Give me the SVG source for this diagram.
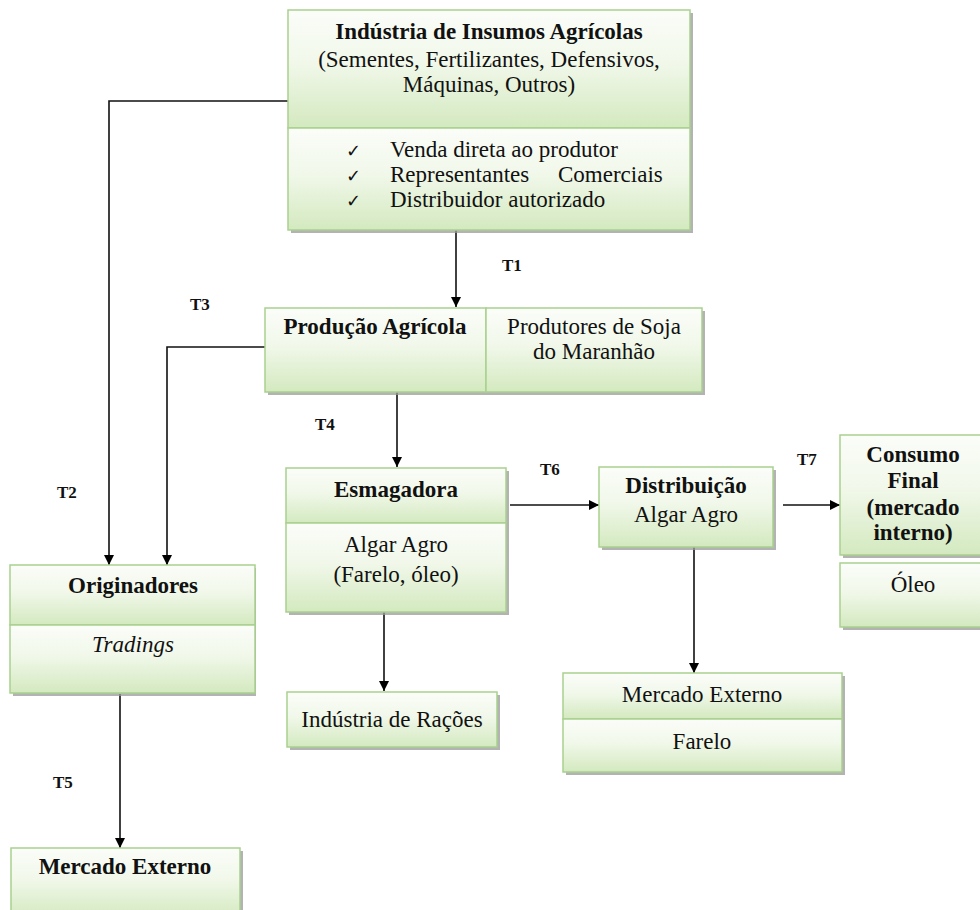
<svg xmlns="http://www.w3.org/2000/svg" width="980" height="910" viewBox="0 0 980 910">
<defs>
<linearGradient id="g" x1="0" y1="0" x2="0" y2="1">
<stop offset="0" stop-color="#fbfdf9"/>
<stop offset="0.45" stop-color="#f1f8ea"/>
<stop offset="1" stop-color="#d3e9bf"/>
</linearGradient>
<marker id="ah" viewBox="0 0 10 10" refX="10" refY="5" markerWidth="10" markerHeight="11" markerUnits="userSpaceOnUse" orient="auto">
<path d="M0,0 L10,5 L0,10 z" fill="#000"/>
</marker>
</defs>
<style>
.sec{fill:url(#g);stroke:#a9d18e;stroke-width:1.5}
.sh{fill:#9a9a9a;opacity:0.75}
.t{font-family:"Liberation Serif",serif;font-size:23px;fill:#111}
.ck{font-family:"DejaVu Sans",sans-serif;font-size:18px;fill:#111}
.c{text-anchor:middle}
.b{font-weight:bold}
.i{font-style:italic}
.lbl{font-family:"Liberation Serif",serif;font-weight:bold;font-size:17px;fill:#111}
.ln{fill:none;stroke:#111;stroke-width:1.6}
</style>
<rect width="980" height="910" fill="#fff"/>

<g id="connectors">
<path class="ln" d="M288,101 H109 V565" marker-end="url(#ah)"/>
<path class="ln" d="M456,230 V307" marker-end="url(#ah)"/>
<path class="ln" d="M265,347 H167 V565" marker-end="url(#ah)"/>
<path class="ln" d="M397,392 V467" marker-end="url(#ah)"/>
<path class="ln" d="M510,505 H599" marker-end="url(#ah)"/>
<path class="ln" d="M783,505 H840" marker-end="url(#ah)"/>
<path class="ln" d="M694,547 V673" marker-end="url(#ah)"/>
<path class="ln" d="M384,612 V691" marker-end="url(#ah)"/>
<path class="ln" d="M120,694 V848" marker-end="url(#ah)"/>
<text class="lbl" x="502" y="271">T1</text>
<text class="lbl" x="190" y="310">T3</text>
<text class="lbl" x="315" y="430">T4</text>
<text class="lbl" x="57" y="498">T2</text>
<text class="lbl" x="540" y="475">T6</text>
<text class="lbl" x="797" y="465">T7</text>
<text class="lbl" x="53" y="788">T5</text>
</g>

<g id="insumos">
<rect class="sh" x="291" y="13" width="402" height="220"/>
<rect class="sec" x="288" y="10" width="402" height="118"/>
<rect class="sec" x="288" y="128" width="402" height="102"/>
<text class="t c b" x="489" y="39">Indústria de Insumos Agrícolas</text>
<text class="t c" x="489" y="67">(Sementes, Fertilizantes, Defensivos,</text>
<text class="t c" x="489" y="92">Máquinas, Outros)</text>
<text class="ck" x="346" y="157">✓</text>
<text class="t" x="390" y="157">Venda direta ao produtor</text>
<text class="ck" x="346" y="182">✓</text>
<text class="t" x="390" y="182">Representantes<tspan x="558">Comerciais</tspan></text>
<text class="ck" x="346" y="207">✓</text>
<text class="t" x="390" y="207">Distribuidor autorizado</text>
</g>

<g id="producao">
<rect class="sh" x="268" y="311" width="437" height="84"/>
<rect class="sec" x="265" y="308" width="221" height="84"/>
<rect class="sec" x="486" y="308" width="216" height="84"/>
<text class="t c b" x="375" y="334">Produção Agrícola</text>
<text class="t c" x="594" y="334">Produtores de Soja</text>
<text class="t c" x="594" y="359">do Maranhão</text>
</g>

<g id="esmagadora">
<rect class="sh" x="289" y="471" width="220" height="144"/>
<rect class="sec" x="286" y="468" width="220" height="55"/>
<rect class="sec" x="286" y="523" width="220" height="89"/>
<text class="t c b" x="396" y="497">Esmagadora</text>
<text class="t c" x="396" y="552">Algar Agro</text>
<text class="t c" x="396" y="582">(Farelo, óleo)</text>
</g>

<g id="distribuicao">
<rect class="sh" x="602" y="470" width="174" height="80"/>
<rect class="sec" x="599" y="467" width="174" height="80"/>
<text class="t c b" x="686" y="493">Distribuição</text>
<text class="t c" x="686" y="522">Algar Agro</text>
</g>

<g id="consumo">
<rect class="sh" x="843" y="438" width="150" height="120"/>
<rect class="sec" x="840" y="435" width="150" height="120"/>
<text class="t c b" x="913" y="462" font-size="22">Consumo</text>
<text class="t c b" x="913" y="488" font-size="22">Final</text>
<text class="t c b" x="913" y="515" font-size="22">(mercado</text>
<text class="t c b" x="913" y="540" font-size="22">interno)</text>
</g>

<g id="oleo">
<rect class="sh" x="843" y="566" width="150" height="64"/>
<rect class="sec" x="840" y="563" width="150" height="64"/>
<text class="t c" x="913" y="592">Óleo</text>
</g>

<g id="originadores">
<rect class="sh" x="13" y="568" width="243" height="128"/>
<rect class="sec" x="10" y="565" width="245" height="60"/>
<rect class="sec" x="10" y="625" width="245" height="68"/>
<text class="t c b" x="133" y="593">Originadores</text>
<text class="t c i" x="133" y="652">Tradings</text>
</g>

<g id="racoes">
<rect class="sh" x="290" y="695" width="210" height="55"/>
<rect class="sec" x="287" y="692" width="210" height="55"/>
<text class="t c" x="392" y="727">Indústria de Rações</text>
</g>

<g id="mercado-farelo">
<rect class="sh" x="566" y="676" width="279" height="99"/>
<rect class="sec" x="563" y="673" width="279" height="46"/>
<rect class="sec" x="563" y="719" width="279" height="53"/>
<text class="t c" x="702" y="702">Mercado Externo</text>
<text class="t c" x="702" y="749">Farelo</text>
</g>

<g id="mercado-externo">
<rect class="sh" x="14" y="851" width="229" height="70"/>
<rect class="sec" x="11" y="848" width="229" height="70"/>
<text class="t c b" x="125" y="874">Mercado Externo</text>
</g>
</svg>
